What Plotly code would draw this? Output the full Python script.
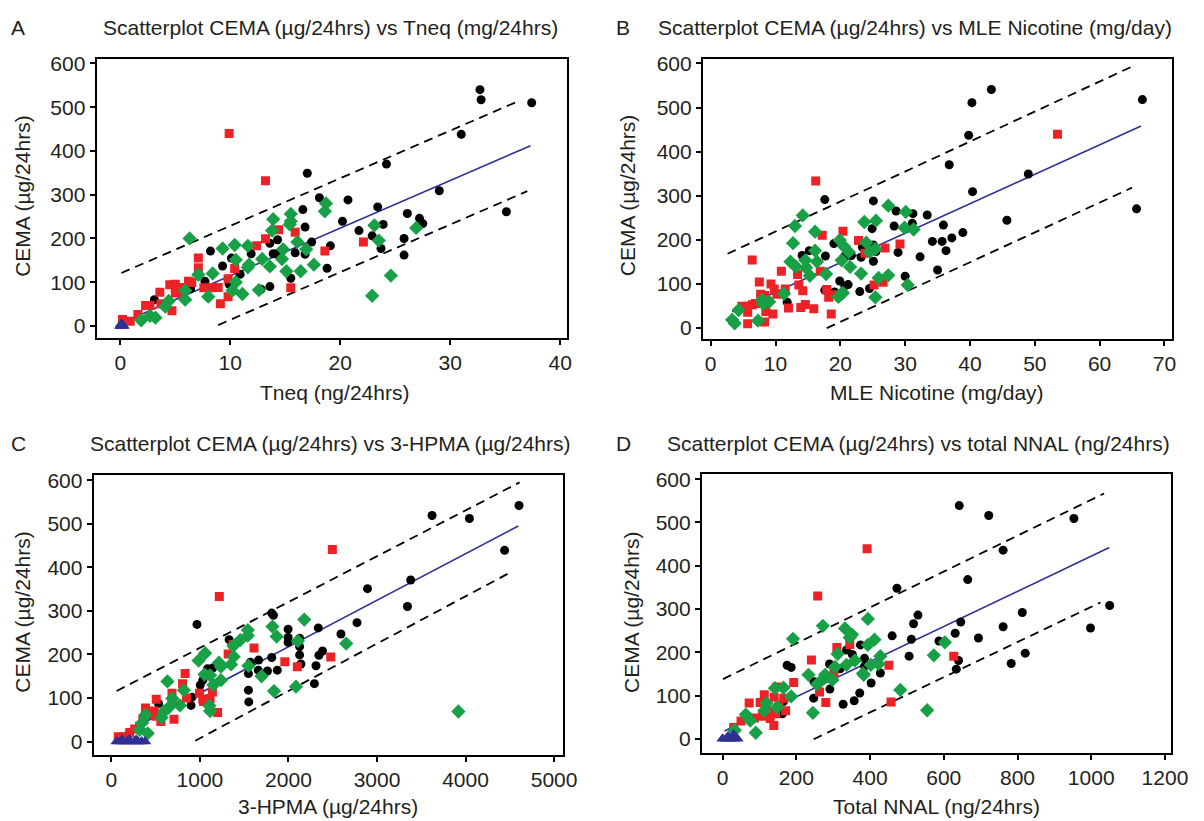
import plotly.graph_objects as go

W, H = 1204, 821

# ---------------- Panel A : Tneq ----------------
a_black_x = [32.7, 32.8, 37.4, 31.0, 24.2, 17.0, 29.0, 18.1, 20.7, 23.4, 16.6, 26.1, 35.1, 27.2, 27.5, 20.2, 16.8, 23.9, 21.7, 22.9, 25.8, 14.3, 17.4, 13.6, 19.1, 14.2, 13.9, 15.9, 16.8, 23.7, 25.8, 11.9, 8.2, 10.1, 9.3, 10.9, 15.5, 18.8, 7.7, 9.9, 13.6, 12.8, 6.4, 5.6, 3.1]
a_black_y = [540, 517, 510, 438, 370, 349, 309, 293, 288, 272, 266, 257, 261, 246, 234, 239, 226, 232, 218, 206, 200, 197, 192, 189, 183, 165, 165, 167, 164, 177, 162, 165, 171, 155, 137, 118, 109, 132, 102, 95, 90, 84, 85, 88, 60]
a_red_x = [9.9, 13.2, 14.4, 15.9, 13.2, 12.4, 22.1, 18.6, 7.1, 7.1, 10.4, 9.8, 9.8, 9.1, 15.5, 6.2, 6.5, 7.6, 8.3, 8.9, 4.5, 5.0, 3.6, 5.0, 3.7, 2.3, 2.7, 4.7, 1.6, 0.9, 0.2, 5.4, 5.7]
a_red_y = [440, 332, 220, 214, 199, 183, 192, 171, 155, 133, 131, 108, 67, 51, 87, 102, 99, 87, 87, 88, 94, 95, 77, 75, 51, 47, 47, 35, 26, 11, 15, 77, 88]
a_green_x = [6.3, 18.7, 18.6, 15.5, 13.9, 15.5, 15.4, 13.8, 16.1, 23.1, 26.9, 23.5, 16.9, 14.8, 11.6, 10.4, 9.3, 10.5, 12.9, 11.7, 11.6, 13.6, 14.7, 15.1, 16.4, 17.6, 24.6, 22.9, 8.4, 7.1, 10.5, 10.2, 11.1, 12.6, 8.0, 5.9, 5.9, 4.4, 4.1, 2.7, 3.2, 1.9]
a_green_y = [200, 280, 262, 256, 244, 239, 232, 218, 192, 230, 224, 195, 175, 175, 183, 185, 177, 151, 153, 140, 134, 136, 153, 125, 125, 140, 115, 69, 120, 117, 100, 81, 73, 82, 67, 60, 81, 57, 44, 23, 19, 13]
a_blue_x = [0.0, 0.1, 0.2, 0.3, 0.1]
a_blue_y = [0, 0, 2, 0, 5]
a_fit_x = [0.2, 37.3]
a_fit_y = [8, 412]
a_up_x = [0.1, 36.3]
a_up_y = [121, 515]
a_lo_x = [8.9, 37.0]
a_lo_y = [2, 308]

# ---------------- Panel B : MLE Nicotine ----------------
b_black_x = [43.3, 40.3, 39.8, 66.6, 36.8, 49.0, 40.4, 65.7, 17.6, 25.1, 28.6, 31.2, 33.4, 31.1, 28.3, 24.9, 35.9, 45.7, 38.9, 37.2, 34.2, 35.7, 36.3, 32.3, 35.0, 30.0, 28.9, 25.5, 25.1, 25.1, 23.2, 21.7, 20.7, 20.5, 23.4, 19.0, 17.7, 15.2, 14.1, 14.8, 19.9, 21.2, 20.7, 23.0, 24.5, 17.6, 19.1, 11.8]
b_black_y = [541, 511, 437, 518, 370, 349, 309, 270, 291, 288, 265, 259, 256, 237, 231, 225, 233, 244, 216, 204, 196, 196, 175, 161, 131, 117, 171, 173, 188, 151, 160, 164, 163, 159, 183, 191, 163, 175, 164, 137, 106, 98, 95, 82, 89, 85, 81, 58]
b_red_x = [53.5, 16.2, 20.4, 17.2, 22.8, 29.2, 26.9, 23.8, 6.4, 10.9, 13.4, 16.9, 7.5, 9.3, 9.8, 11.5, 13.6, 14.2, 17.9, 18.2, 19.0, 25.2, 26.6, 7.7, 8.3, 10.2, 12.0, 13.9, 14.6, 15.9, 18.6, 4.8, 5.7, 6.4, 6.9, 8.5, 9.6, 8.3, 5.7, 5.7]
b_red_y = [439, 333, 219, 210, 198, 190, 181, 169, 154, 128, 121, 128, 104, 99, 88, 88, 97, 84, 87, 69, 75, 97, 103, 76, 73, 76, 45, 46, 53, 43, 31, 49, 49, 52, 55, 37, 31, 13, 9, 35]
b_green_x = [14.2, 13.0, 16.1, 12.7, 16.1, 16.4, 12.3, 13.1, 14.6, 14.7, 15.3, 17.8, 27.4, 30.1, 23.7, 25.5, 29.9, 31.3, 19.9, 24.0, 20.6, 21.3, 25.4, 24.5, 20.2, 21.5, 23.2, 25.9, 27.4, 30.4, 25.4, 20.1, 19.7, 20.4, 11.3, 9.0, 7.9, 8.1, 4.3, 7.3, 3.3, 3.7]
b_green_y = [255, 231, 218, 192, 175, 150, 150, 139, 153, 136, 118, 122, 277, 263, 240, 243, 227, 223, 199, 193, 184, 172, 179, 172, 153, 138, 123, 113, 119, 97, 69, 76, 70, 79, 77, 59, 63, 54, 40, 16, 18, 10]
b_fit_x = [3.3, 66.4]
b_fit_y = [36, 458]
b_up_x = [2.6, 65.0]
b_up_y = [168, 593]
b_lo_x = [17.9, 65.0]
b_lo_y = [-1, 318]

# ---------------- Panel C : 3-HPMA ----------------
c_black_x = [4604, 3622, 4044, 4441, 3381, 2893, 3344, 2774, 2593, 2337, 2385, 2344, 2311, 2293, 1811, 1830, 1996, 1996, 1996, 2126, 2126, 2126, 2141, 1811, 1874, 1763, 1659, 1663, 1570, 1548, 1548, 1552, 1330, 967, 1144, 1085, 1033, 911, 900, 1004, 533, 448]
c_black_y = [542, 519, 512, 439, 371, 351, 310, 273, 247, 261, 208, 198, 174, 133, 295, 290, 258, 239, 228, 237, 218, 199, 178, 193, 164, 162, 164, 187, 182, 156, 118, 91, 234, 269, 169, 167, 141, 102, 83, 130, 87, 63]
c_red_x = [2496, 1219, 1611, 1374, 1319, 1959, 2100, 2478, 833, 804, 685, 848, 685, 996, 1033, 1115, 1141, 1041, 1200, 707, 559, 485, 385, 430, 504, 356, 263, 319, 207, 78, 152, 507]
c_red_y = [441, 333, 215, 223, 201, 183, 172, 194, 156, 133, 111, 100, 91, 111, 97, 99, 114, 92, 67, 51, 46, 70, 77, 63, 58, 51, 29, 35, 21, 11, 11, 97]
c_green_x = [2178, 1819, 1867, 2652, 2107, 1541, 1541, 1456, 1378, 1381, 1352, 1059, 985, 1215, 1237, 1548, 1696, 1837, 2085, 3919, 633, 819, 1052, 1115, 1152, 1237, 689, 774, 648, 596, 567, 385, 348, 319, 411, 1107, 1115]
c_green_y = [280, 264, 241, 225, 231, 256, 243, 233, 220, 195, 177, 203, 186, 181, 172, 174, 150, 116, 126, 69, 138, 118, 154, 152, 130, 141, 99, 83, 78, 69, 55, 61, 43, 27, 19, 82, 70]
c_blue_x = [60, 100, 140, 180, 220, 260, 300, 340, 380, 120, 200, 280]
c_blue_y = [0, 0, 0, 0, 0, 0, 0, 0, 0, 4, 5, 4]
c_fit_x = [120, 4596]
c_fit_y = [17, 495]
c_up_x = [59, 4611]
c_up_y = [116, 595]
c_lo_x = [948, 4530]
c_lo_y = [2, 391]

# ---------------- Panel D : Total NNAL ----------------
d_black_x = [642, 722, 953, 761, 665, 473, 1050, 813, 646, 530, 518, 761, 998, 694, 631, 587, 512, 460, 506, 821, 783, 640, 634, 374, 385, 428, 403, 372, 357, 327, 352, 336, 319, 290, 291, 247, 248, 175, 186, 162, 165, 385]
d_black_y = [539, 516, 509, 436, 368, 348, 308, 292, 270, 286, 266, 259, 256, 233, 244, 226, 230, 238, 191, 198, 174, 181, 161, 217, 186, 152, 129, 106, 88, 80, 195, 205, 162, 173, 115, 94, 132, 170, 165, 58, 86, 168]
d_red_x = [392, 258, 310, 345, 241, 451, 627, 457, 193, 263, 280, 147, 113, 140, 166, 72, 102, 171, 126, 108, 86, 139, 50, 30, 153, 302, 144, 129]
d_red_y = [439, 330, 211, 218, 182, 170, 191, 85, 130, 108, 84, 120, 102, 96, 94, 83, 84, 65, 65, 52, 48, 31, 41, 26, 75, 151, 58, 47]
d_green_x = [394, 272, 191, 332, 351, 345, 412, 394, 603, 573, 428, 423, 402, 312, 359, 336, 381, 383, 305, 278, 233, 265, 298, 256, 482, 555, 245, 186, 165, 142, 119, 113, 148, 63, 75, 90, 33]
d_green_y = [277, 261, 231, 255, 241, 234, 229, 217, 223, 193, 191, 173, 171, 196, 181, 171, 151, 148, 166, 148, 148, 132, 136, 126, 113, 66, 60, 98, 118, 117, 82, 65, 73, 56, 42, 14, 20]
d_blue_x = [0, 10, 20, 30, 40, 15, 30]
d_blue_y = [0, 0, 0, 0, 0, 6, 10]
d_fit_x = [5, 1049]
d_fit_y = [18, 442]
d_up_x = [1, 1035]
d_up_y = [138, 567]
d_lo_x = [247, 1025]
d_lo_y = [-1, 315]

BLACK = "#000000"
RED = "#ec2227"
GREEN = "#17a046"
BLUE = "#2e3192"
TXT = "#231f20"
FONT = "Liberation Sans, Arial, sans-serif"

panels = [
    dict(bx=a_black_x, by=a_black_y, rx=a_red_x, ry=a_red_y, gx=a_green_x, gy=a_green_y,
         tx=a_blue_x, ty=a_blue_y, fx=a_fit_x, fy=a_fit_y, ux=a_up_x, uy=a_up_y, lx=a_lo_x, ly=a_lo_y),
    dict(bx=b_black_x, by=b_black_y, rx=b_red_x, ry=b_red_y, gx=b_green_x, gy=b_green_y,
         tx=[], ty=[], fx=b_fit_x, fy=b_fit_y, ux=b_up_x, uy=b_up_y, lx=b_lo_x, ly=b_lo_y),
    dict(bx=c_black_x, by=c_black_y, rx=c_red_x, ry=c_red_y, gx=c_green_x, gy=c_green_y,
         tx=c_blue_x, ty=c_blue_y, fx=c_fit_x, fy=c_fit_y, ux=c_up_x, uy=c_up_y, lx=c_lo_x, ly=c_lo_y),
    dict(bx=d_black_x, by=d_black_y, rx=d_red_x, ry=d_red_y, gx=d_green_x, gy=d_green_y,
         tx=d_blue_x, ty=d_blue_y, fx=d_fit_x, fy=d_fit_y, ux=d_up_x, uy=d_up_y, lx=d_lo_x, ly=d_lo_y),
]

# frames in pixels (left, right, top, bottom)
frames = [(98, 575, 52, 333), (713, 1189, 52, 334), (95, 571, 472, 754), (712, 1188, 471, 752)]
xranges = [[-2.15, 40.6], [-1.2, 71.2], [-200, 5100], [-56, 1217]]
yranges = [[-27, 609], [-25, 609], [-30, 611], [-32, 611]]
xticks = [list(range(0, 41, 10)), list(range(0, 71, 10)), list(range(0, 5001, 1000)), list(range(0, 1201, 200))]

fig = go.Figure()

for i, p in enumerate(panels):
    sfx = "" if i == 0 else str(i + 1)
    xa, ya = "x" + sfx, "y" + sfx
    # prediction bands and fit line
    for lx_, ly_ in [(p["ux"], p["uy"]), (p["lx"], p["ly"])]:
        fig.add_trace(go.Scatter(x=lx_, y=ly_, mode="lines", xaxis=xa, yaxis=ya,
                                 line=dict(color=BLACK, width=1.8, dash="9px,6px"), showlegend=False, hoverinfo="skip"))
    fig.add_trace(go.Scatter(x=p["fx"], y=p["fy"], mode="lines", xaxis=xa, yaxis=ya,
                             line=dict(color=BLUE, width=1.6), showlegend=False, hoverinfo="skip"))
    fig.add_trace(go.Scatter(x=p["bx"], y=p["by"], mode="markers", xaxis=xa, yaxis=ya,
                             marker=dict(symbol="circle", size=9, color=BLACK), showlegend=False))
    fig.add_trace(go.Scatter(x=p["rx"], y=p["ry"], mode="markers", xaxis=xa, yaxis=ya,
                             marker=dict(symbol="square", size=9, color=RED), showlegend=False))
    fig.add_trace(go.Scatter(x=p["gx"], y=p["gy"], mode="markers", xaxis=xa, yaxis=ya,
                             marker=dict(symbol="diamond", size=11, color=GREEN), showlegend=False))
    if p["tx"]:
        fig.add_trace(go.Scatter(x=p["tx"], y=p["ty"], mode="markers", xaxis=xa, yaxis=ya,
                                 marker=dict(symbol="triangle-up", size=11, color=BLUE), showlegend=False))

    l, r, t, b = frames[i]
    axis_common = dict(showline=True, linecolor=BLACK, linewidth=2, mirror=True, ticks="outside",
                       ticklen=5, tickwidth=1.5, tickcolor=BLACK, showgrid=False, zeroline=False,
                       tickfont=dict(family=FONT, size=21, color=TXT))
    fig.update_layout(**{
        "xaxis" + sfx: dict(domain=[l / W, r / W], range=xranges[i], tickvals=xticks[i],
                            anchor=ya, **axis_common),
        "yaxis" + sfx: dict(domain=[1 - b / H, 1 - t / H], range=yranges[i],
                            tickvals=list(range(0, 601, 100)), anchor=xa, **axis_common),
    })

def ann(text, x, y, size=21, angle=0, xanchor="center"):
    fig.add_annotation(text=text, x=x / W, y=1 - y / H, xref="paper", yref="paper",
                       showarrow=False, textangle=angle, xanchor=xanchor, yanchor="middle",
                       font=dict(family=FONT, size=size, color=TXT))

# panel letters and titles
ann("A", 9, 20, xanchor="left")
ann("Scatterplot CEMA (µg/24hrs) vs Tneq (mg/24hrs)", 335, 20)
ann("B", 623, 20, xanchor="left")
ann("Scatterplot CEMA (µg/24hrs) vs MLE Nicotine (mg/day)", 928, 20)
ann("C", 9, 440, xanchor="left")
ann("Scatterplot CEMA (µg/24hrs) vs 3-HPMA (µg/24hrs)", 335, 440)
ann("D", 623, 440, xanchor="left")
ann("Scatterplot CEMA (µg/24hrs) vs total NNAL (ng/24hrs)", 932, 440)

# axis titles
ann("Tneq (ng/24hrs)", 339, 388)
ann("MLE Nicotine (mg/day)", 950, 388)
ann("3-HPMA (µg/24hrs)", 333, 806)
ann("Total NNAL (ng/24hrs)", 950, 806)
ann("CEMA (µg/24hrs)", 22, 190, angle=-90)
ann("CEMA (µg/24hrs)", 636, 190, angle=-90)
ann("CEMA (µg/24hrs)", 22, 610, angle=-90)
ann("CEMA (µg/24hrs)", 640, 610, angle=-90)

fig.update_layout(width=W, height=H, margin=dict(l=0, r=0, t=0, b=0),
                  paper_bgcolor="white", plot_bgcolor="white", showlegend=False)

POST = (
    "var gd=document.getElementById('{plot_id}');"
    "document.documentElement.style.margin='0';document.body.style.margin='0';"
    "document.documentElement.style.overflow='hidden';document.body.style.overflow='hidden';"
    "gd.style.position='fixed';gd.style.left='0px';gd.style.top='0px';"
)

fig.write_html("out.html", config={"displayModeBar": False}, post_script=POST)
